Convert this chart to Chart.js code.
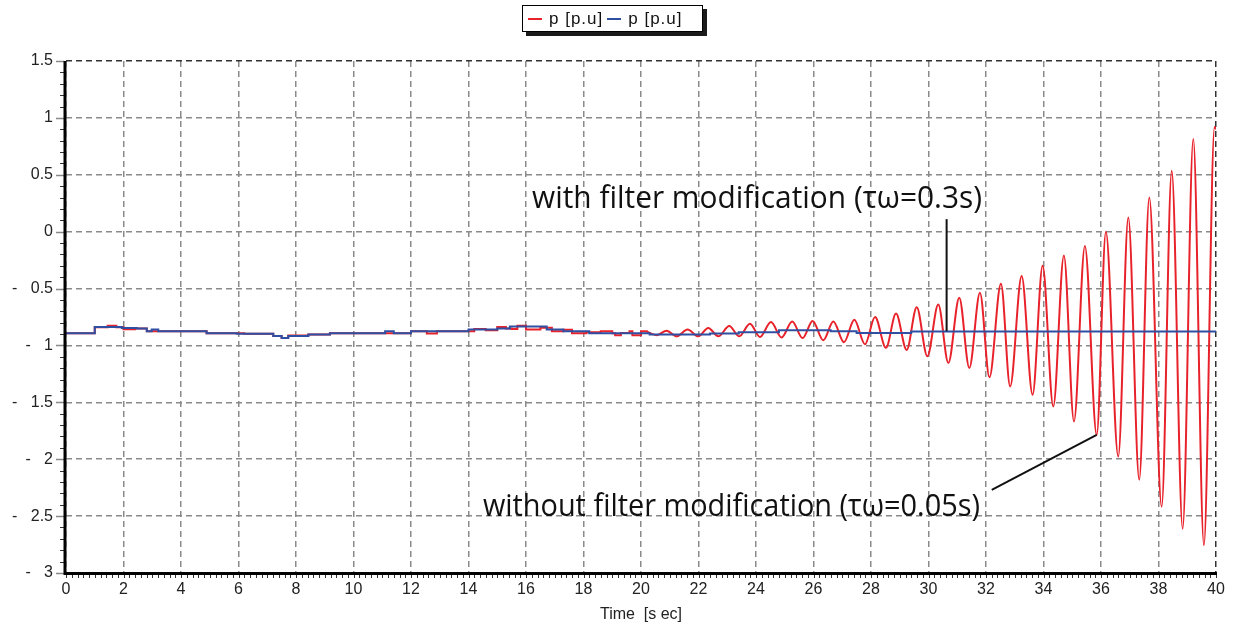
<!DOCTYPE html>
<html>
<head>
<meta charset="utf-8">
<title>p [p.u] vs time</title>
<script src="https://cdn.jsdelivr.net/npm/chart.js@4.4.0/dist/chart.umd.min.js"></script>
<style>
    html, body { margin: 0; padding: 0; background: #fff; }
    #wrap { position: relative; width: 1234px; height: 628px; }
    #legend {
        position: absolute; left: 522px; top: 5px; width: 174px; height: 25px;
        border: 1.5px solid #000; box-shadow: 4px 4px 0 #1b1b1b; background: #fff;
        font: 17px "Liberation Sans", Arial, sans-serif; color: #111;
        display: flex; align-items: center; padding-left: 5px; box-sizing: content-box;
        letter-spacing: 1px; white-space: nowrap;
    }
    #legend .sw { display: inline-block; width: 14px; height: 2px; margin: 0 7px 0 0; }
    #legend .item { display: flex; align-items: center; margin-right: 4px; }
</style>
</head>
<body>
<div id="wrap">
    <canvas id="chart" width="1234" height="628"></canvas>
    <div id="legend"></div>
</div>
<script>
// Axis ticks
const xTicks = [0, 2, 4, 6, 8, 10, 12, 14, 16, 18, 20, 22, 24, 26, 28, 30, 32, 34, 36, 38, 40];
const yTicks = [-3, -2.5, -2, -1.5, -1, -0.5, 0, 0.5, 1, 1.5];

const seriesNames = ['p [p.u]', 'p [p.u]'];
const seriesColors = ['#e8222b', '#2f4fa3'];

// Blue trace (with filter modification) - step values, each held until next time
const blueT = [0, 1.0, 1.94, 2.46, 2.81, 2.98, 3.21, 4.89, 5.94, 7.21, 7.5, 7.73, 8.43, 9.18, 11.1, 11.4, 12.0,
    14.0, 15.0, 15.44, 16.72, 17.3, 18.2, 20.3, 22.4, 23.4, 24.8, 26.6, 27.5, 29.4, 40];
const blueV = [-0.892, -0.837, -0.846, -0.85, -0.875, -0.86, -0.875, -0.892, -0.898, -0.916, -0.934, -0.916, -0.904,
    -0.892, -0.875, -0.892, -0.875, -0.86, -0.85, -0.833, -0.86, -0.875, -0.892, -0.904, -0.895, -0.884, -0.867,
    -0.875, -0.89, -0.878, -0.878];

// Red trace (without filter modification) - early stepped part
const redStepT = [0, 1.0, 1.45, 1.75, 2.0, 2.4, 2.81, 3.21, 4.89, 6.2, 7.21, 7.5, 7.73, 8.43, 9.18, 11.1, 11.35, 12.0,
    12.55, 12.9, 14.2, 14.6, 15.0, 15.3, 15.5, 15.7, 16.0, 16.5, 16.9, 17.3, 17.6, 18.1, 18.6, 19.0, 19.1, 19.3,
    19.6, 19.7, 20.0, 20.2];
const redStepV = [-0.892, -0.84, -0.826, -0.84, -0.858, -0.85, -0.875, -0.875, -0.892, -0.898, -0.916, -0.934,
    -0.912, -0.904, -0.892, -0.892, -0.892, -0.875, -0.896, -0.875, -0.856, -0.866, -0.838, -0.85, -0.855, -0.826,
    -0.86, -0.845, -0.875, -0.862, -0.892, -0.885, -0.875, -0.892, -0.91, -0.89, -0.875, -0.91, -0.875, -0.88];

// Red trace - growing oscillation, peaks and troughs
const redWaveT = [20.2, 20.55, 20.89, 21.24, 21.62, 21.99, 22.34, 22.69, 23.07, 23.42, 23.79, 24.14, 24.52, 24.89,
    25.26, 25.62, 25.97, 26.34, 26.69, 27.06, 27.42, 27.79, 28.14, 28.52, 28.87, 29.24, 29.59, 29.96, 30.34, 30.69,
    31.07, 31.42, 31.79, 32.12, 32.52, 32.84, 33.24, 33.62, 33.97, 34.34, 34.71, 35.06, 35.44, 35.85, 36.17, 36.6,
    36.95, 37.33, 37.68, 38.11, 38.46, 38.84, 39.21, 39.58, 39.95, 40];
const redWaveV = [-0.88, -0.91, -0.87, -0.92, -0.86, -0.92, -0.846, -0.92, -0.83, -0.92, -0.81, -0.925, -0.795,
    -0.93, -0.79, -0.935, -0.785, -0.954, -0.79, -0.972, -0.775, -0.99, -0.75, -1.02, -0.72, -1.04, -0.665, -1.095,
    -0.64, -1.154, -0.58, -1.198, -0.537, -1.28, -0.457, -1.36, -0.39, -1.433, -0.30, -1.536, -0.21, -1.668, -0.125,
    -1.786, 0.0, -1.977, 0.125, -2.18, 0.30, -2.418, 0.536, -2.61, 0.815, -2.755, 0.92, 0.9];

// Annotations (data coordinates)
const notes = [
    { text: 'with filter modification (\u03c4\u03c9=0.3s)', x0: 16.21, x1: 31.86, y: 0.21 },
    { text: 'without filter modification (\u03c4\u03c9=0.05s)', x0: 14.5, x1: 31.79, y: -2.50 }
];
const leaders = [
    [30.63, 0.11, 30.63, -0.875],
    [35.85, -1.786, 32.2, -2.27]
];

function pts(ts, vs) {
    return ts.map((t, i) => ({ x: t, y: vs[i] }));
}

// HTML legend (boxed with shadow, like the original)
function buildLegend() {
    const el = document.getElementById('legend');
    el.innerHTML = seriesNames.map((name, i) =>
        `<span class="item"><span class="sw" style="background:${seriesColors[i]}"></span>${name}</span>`
    ).join('');
}

function yLabel(v) {
    return v < 0 ? '-   ' + Math.abs(v) : String(v);
}

const decorPlugin = {
    id: 'decor',
    afterDraw(chart) {
        const { ctx, chartArea: a, scales: { x, y } } = chart;
        ctx.save();

        // leader lines
        ctx.strokeStyle = '#111';
        ctx.lineWidth = 2;
        leaders.forEach(l => {
            ctx.beginPath();
            ctx.moveTo(x.getPixelForValue(l[0]), y.getPixelForValue(l[1]));
            ctx.lineTo(x.getPixelForValue(l[2]), y.getPixelForValue(l[3]));
            ctx.stroke();
        });

        // annotation texts, fitted to their width in the original
        ctx.fillStyle = '#111';
        ctx.font = '31px "Open Sans", "Noto Sans", sans-serif';
        ctx.textBaseline = 'alphabetic';
        ctx.textAlign = 'left';
        notes.forEach(n => {
            const px0 = x.getPixelForValue(n.x0);
            const px1 = x.getPixelForValue(n.x1);
            const py = y.getPixelForValue(n.y);
            const w = ctx.measureText(n.text).width;
            ctx.save();
            ctx.translate(px0, py);
            ctx.scale((px1 - px0) / w, 1);
            ctx.fillText(n.text, 0, 0);
            ctx.restore();
        });

        // minor ticks on y axis
        for (let k = 0; k <= 45; k++) {
            const py = Math.round(y.getPixelForValue(-3 + k * 0.1)) + 0.5;
            ctx.beginPath();
            if (k % 5 === 0) {
                ctx.strokeStyle = '#888';
                ctx.lineWidth = 1.5;
                ctx.moveTo(a.left - 10, py);
                ctx.lineTo(a.left - 2, py);
            } else {
                ctx.strokeStyle = '#333';
                ctx.lineWidth = 1;
                ctx.moveTo(a.left - 6, py);
                ctx.lineTo(a.left - 2, py);
            }
            ctx.stroke();
        }

        // minor ticks below x axis
        ctx.strokeStyle = '#333';
        ctx.lineWidth = 1;
        for (let k = 0; k <= 200; k++) {
            const px = Math.round(x.getPixelForValue(k * 0.2)) + 0.5;
            ctx.beginPath();
            ctx.moveTo(px, a.bottom + 1);
            ctx.lineTo(px, a.bottom + 5);
            ctx.stroke();
        }

        // thick axes
        ctx.strokeStyle = '#000';
        ctx.lineWidth = 3;
        ctx.beginPath();
        ctx.moveTo(a.left - 1, a.top);
        ctx.lineTo(a.left - 1, a.bottom + 2);
        ctx.moveTo(a.left - 2.5, a.bottom + 0.5);
        ctx.lineTo(a.right + 1, a.bottom + 0.5);
        ctx.stroke();

        ctx.restore();
    }
};

document.addEventListener('DOMContentLoaded', function() {
    buildLegend();

    const ctx = document.getElementById('chart').getContext('2d');
    new Chart(ctx, {
        type: 'line',
        data: {
            datasets: [
                {
                    label: seriesNames[1],
                    data: pts(blueT, blueV),
                    borderColor: seriesColors[1],
                    borderWidth: 2,
                    stepped: true,
                    pointRadius: 0,
                    order: 0
                },
                {
                    label: seriesNames[0],
                    data: pts(redStepT, redStepV),
                    borderColor: seriesColors[0],
                    borderWidth: 2,
                    stepped: true,
                    pointRadius: 0,
                    order: 1
                },
                {
                    label: seriesNames[0],
                    data: pts(redWaveT, redWaveV),
                    borderColor: seriesColors[0],
                    borderWidth: 2,
                    cubicInterpolationMode: 'monotone',
                    pointRadius: 0,
                    order: 1
                }
            ]
        },
        options: {
            responsive: false,
            animation: false,
            devicePixelRatio: 1,
            layout: { padding: { left: 0, right: 18, top: 61, bottom: 0 } },
            plugins: {
                legend: { display: false },
                tooltip: { enabled: false }
            },
            scales: {
                x: {
                    type: 'linear',
                    min: 0,
                    max: 40,
                    afterBuildTicks: s => { s.ticks = xTicks.map(v => ({ value: v })); },
                    afterFit: s => { s.height = 55; },
                    grid: {
                        color: c => (c.tick && c.tick.value === 40) ? '#333' : '#8a8a8a',
                        lineWidth: 1.5,
                        drawTicks: false
                    },
                    border: { display: false, dash: [6, 4] },
                    ticks: {
                        color: '#222',
                        padding: 7,
                        maxRotation: 0,
                        font: { family: '"Liberation Sans", Arial, sans-serif', size: 16 }
                    },
                    title: {
                        display: true,
                        text: 'Time  [s ec]',
                        color: '#222',
                        padding: { top: 0, bottom: 4 },
                        font: { family: '"Liberation Sans", Arial, sans-serif', size: 16 }
                    }
                },
                y: {
                    type: 'linear',
                    min: -3,
                    max: 1.5,
                    afterBuildTicks: s => { s.ticks = yTicks.map(v => ({ value: v })); },
                    afterFit: s => { s.width = 66; },
                    grid: {
                        color: c => (c.tick && c.tick.value === 1.5) ? '#333' : '#8a8a8a',
                        lineWidth: 1.5,
                        drawTicks: false
                    },
                    border: { display: false, dash: [6, 4] },
                    ticks: {
                        color: '#222',
                        padding: 13,
                        callback: v => yLabel(v),
                        font: { family: '"Liberation Sans", Arial, sans-serif', size: 16 }
                    }
                }
            }
        },
        plugins: [decorPlugin]
    });
});
</script>
</body>
</html>
